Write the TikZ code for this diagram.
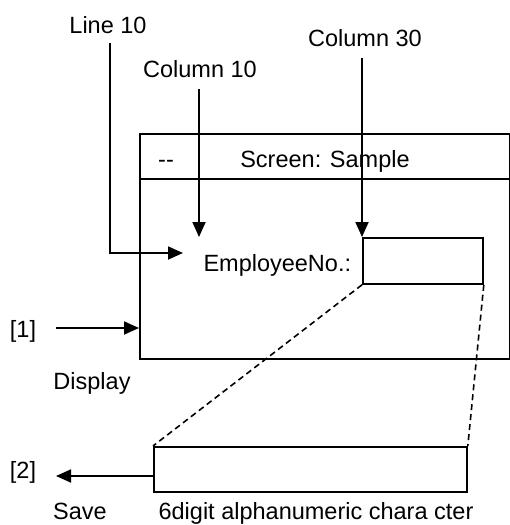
\documentclass[tikz,border=0pt]{standalone}
\usepackage{fontspec}
\setmainfont{Liberation Sans}
\usetikzlibrary{arrows.meta}

\begin{document}
\begin{tikzpicture}[x=1pt,y=-1pt,line width=1.8pt,
  every node/.style={font=\fontsize{23.5}{28}\selectfont,inner sep=0pt},
  lbl/.style={anchor=base},
  box/.style={draw,rectangle,anchor=north west},
  pointer/.style={-{Triangle[length=15pt,width=13pt]}},
  guide/.style={line width=1.6pt,dash pattern=on 6pt off 4pt}]
\useasboundingbox (0,0) rectangle (510,525);
\node[box,minimum width=370pt,minimum height=225pt] (screen) at (139,133) {};
\node[box,minimum width=370pt,minimum height=45pt] (header) at (139,133) {};
\node[box,minimum width=120pt,minimum height=46pt] (field) at (362,237) {};
\node[box,minimum width=313pt,minimum height=45pt] (store) at (153,446) {};
\node[lbl] (line10) at (108,33) {Line 10};
\node[lbl] (col10) at (200,77) {Column 10};
\node[lbl] (col30) at (365,46) {Column 30};
\node[lbl] (dash) at (166,167) {-{}-};
\node[lbl] (title) at (325,167) {Screen: Sample};
\node[lbl,anchor=base east] (empno) at (352,271) {EmployeeNo.:};
\node[lbl] (one) at (23,337) {[1]};
\node[lbl] (display) at (92,389) {Display};
\node[lbl] (two) at (23,478) {[2]};
\node[lbl] (save) at (80,519) {Save};
\node[lbl] (fmt) at (316,519) {6digit alphanumeric chara cter};
\coordinate (l10top) at (110,43);
\coordinate (row) at (183,253);
\coordinate (c10top) at (199,89);
\coordinate (c10tip) at (199,237);
\coordinate (c30top) at (362,58);
\coordinate (in1) at (56,328);
\coordinate (out2) at (56,476);
\draw[pointer] (l10top) |- (row);
\draw[pointer] (c10top) -- (c10tip);
\draw[pointer] (c30top) -- (field.north west);
\draw[pointer] (in1) -- (in1 -| screen.west);
\draw[pointer] (out2 -| store.west) -- (out2);
\draw[guide] (field.south west) -- (store.north west);
\draw[guide] (field.south east) -- (store.north east);
\end{tikzpicture}
\end{document}
